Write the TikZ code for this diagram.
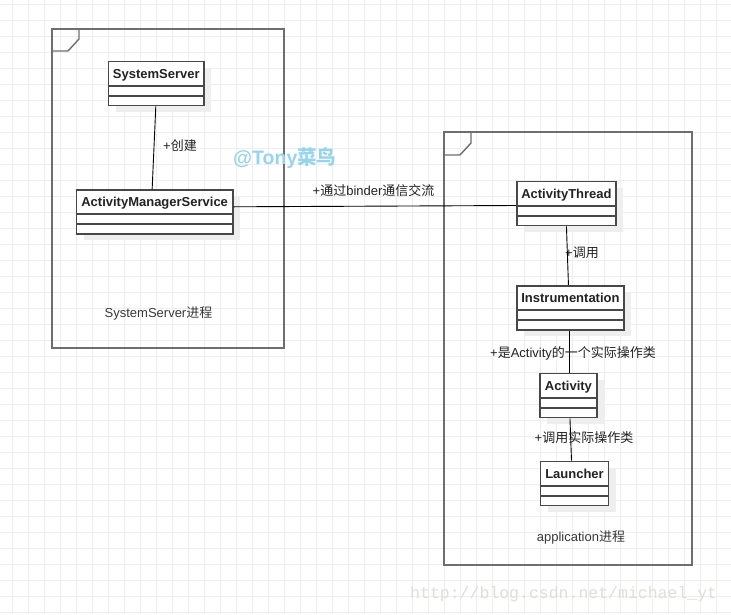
\documentclass[tikz,border=0pt]{standalone}
\usepackage{fontspec}
\setmainfont{Liberation Sans}
\newfontfamily\cjk{Noto Sans CJK SC}
\newfontfamily\wmmono{Liberation Mono}
\definecolor{gridc}{RGB}{238,238,238}
\definecolor{shadowc}{RGB}{238,238,238}
\definecolor{boxc}{RGB}{72,72,72}
\definecolor{framec}{RGB}{110,110,110}
\definecolor{textc}{RGB}{34,34,34}
\definecolor{wmblue}{RGB}{150,212,238}
\definecolor{wmgray}{RGB}{222,222,218}
\newcommand{\zh}[1]{{\cjk #1}}
\tikzset{
  classbox/.style={draw=boxc, line width=1.6pt, fill=white, inner sep=0pt},
  classname/.style={font=\fontsize{13}{15}\selectfont\bfseries, text=textc, inner sep=0pt, anchor=base},
  framebox/.style={draw=framec, line width=1.4pt},
  conn/.style={draw=black, line width=0.9pt},
  lbl/.style={font=\fontsize{13}{15}\selectfont, text=textc, inner sep=0pt},
  proclbl/.style={font=\fontsize{13}{15}\selectfont, text=textc!90, inner sep=0pt}
}
\newcommand{\umlclass}[5]{%
  \fill[shadowc] (#2+8,-#3-7) rectangle ++(#4,-44);
  \node[classbox, minimum width=#4pt, minimum height=44pt, anchor=north west] (#1) at (#2,-#3) {};
  \draw[boxc, line width=1.6pt] ([yshift=-25pt]#1.north west) -- ([yshift=-25pt]#1.north east);
  \draw[boxc, line width=1.6pt] ([yshift=-35pt]#1.north west) -- ([yshift=-35pt]#1.north east);
  \node[classname] (#1-name) at ([yshift=-17.5pt]#1.north) {#5};
}
\begin{document}
\begin{tikzpicture}[x=1pt,y=1pt]
\useasboundingbox (0,0) rectangle (731,-614);
\fill[white] (0,0) rectangle (731,-614);
% grid
\foreach \gx in {12.5,28.5,...,731} \draw[gridc, line width=1pt] (\gx,0) -- (\gx,-614);
\foreach \gy in {4.7,20.7,...,614} \draw[gridc, line width=1pt] (0,-\gy) -- (731,-\gy);
% frames
\draw[framebox] (52,-29) rectangle (284,-348);
\draw[framebox] (52,-29) -- (79,-29) -- (79,-39) -- (68,-51) -- (52,-51) -- cycle;
\draw[framebox] (444,-132) rectangle (692,-565);
\draw[framebox] (444,-132) -- (471,-132) -- (471,-143) -- (460,-155) -- (444,-155) -- cycle;
% classes
\umlclass{ss}{107.7}{60.7}{95.6}{SystemServer}
\umlclass{ams}{75.7}{189}{156.3}{ActivityManagerService}
\umlclass{at}{516}{180.7}{99.3}{ActivityThread}
\umlclass{ins}{516}{285}{107.3}{Instrumentation}
\umlclass{act}{539.3}{372.7}{56.7}{Activity}
\umlclass{lau}{539.7}{460.7}{68}{Launcher}
% connectors
\draw[conn] ([xshift=-0.5pt]ss.south) -- ([xshift=-2.5pt]ams.north);
\draw[conn] ([yshift=5pt]ams.east) -- ([yshift=-2pt]at.west);
\draw[conn] ([xshift=0pt]at.south) -- ([xshift=-2pt]ins.north);
\draw[conn] ([xshift=-1.5pt]ins.south) -- ([xshift=0.5pt]act.north);
\draw[conn] ([xshift=1.5pt]act.south) -- ([xshift=-3pt]lau.north);
% labels
\node[lbl, anchor=west] (l1) at (163,-146) {+\zh{创建}};
\node[lbl, anchor=west] (l2) at (312.5,-190.5) {+\zh{通过}binder\zh{通信交流}};
\node[lbl, anchor=west] (l3) at (565,-253) {+\zh{调用}};
\node[lbl, anchor=west] (l4) at (490,-353.5) {+\zh{是}Activity\zh{的一个实际操作类}};
\node[lbl, anchor=west] (l5) at (534.5,-437.5) {+\zh{调用实际操作类}};
\node[proclbl] (p1) at (158.5,-313) {SystemServer\zh{进程}};
\node[proclbl] (p2) at (581,-537) {application\zh{进程}};
% watermarks
\node[font=\fontsize{19.5}{21}\selectfont\bfseries, text=wmblue, inner sep=0pt, anchor=west] (wm1) at (233,-158) {@Tony{\cjk\bfseries 菜鸟}};
\node[font=\wmmono\fontsize{16.5}{18}\selectfont, text=wmgray, inner sep=0pt, anchor=west] (wm2) at (410,-594) {http://blog.csdn.net/michael\_yt};
\end{tikzpicture}
\end{document}
